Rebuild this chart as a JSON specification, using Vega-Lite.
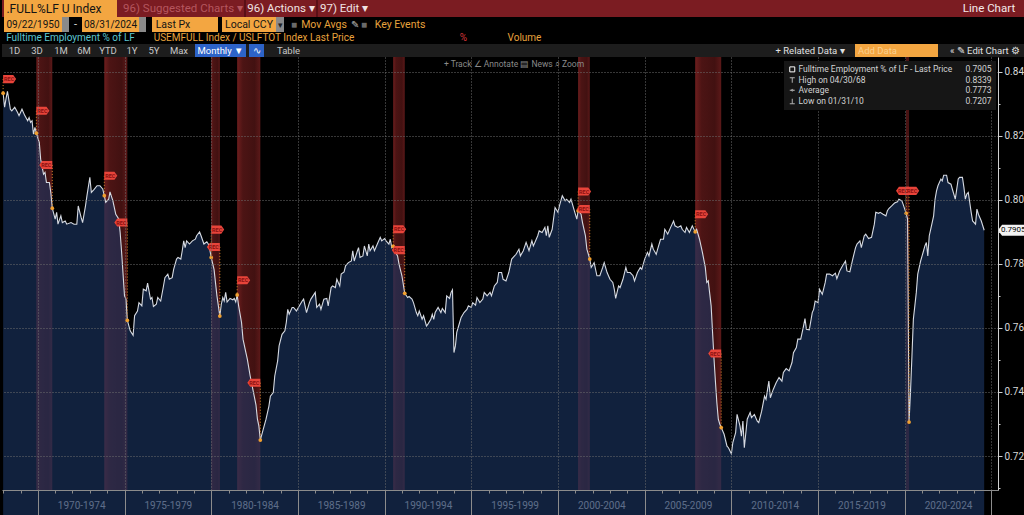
{
"$schema":"https://vega.github.io/schema/vega-lite/v6.json",
"padding":0,
"background":"#000000",
"spacing":0,
"config":{"view":{"stroke":null},"concat":{"spacing":0},"text":{"font":"Liberation Sans Narrow, Roboto, sans-serif"},"axis":{"labelFont":"Liberation Sans Narrow, Roboto, sans-serif"},"legend":{"labelFont":"Liberation Sans Narrow, Roboto, sans-serif"},"title":{"font":"Liberation Sans Narrow, Roboto, sans-serif"}},
"datasets":{
"bands":[{"s":"1969-12","e":"1970-11"},{"s":"1973-11","e":"1975-03"},{"s":"1980-01","e":"1980-07"},{"s":"1981-07","e":"1982-11"},{"s":"1990-07","e":"1991-03"},{"s":"2001-03","e":"2001-11"},{"s":"2007-12","e":"2009-06"},{"s":"2020-02","e":"2020-04"}],
"events":[
{"date":"1968-01","tag":0.8377,"dot":0.8333,"kind":"start"},
{"date":"1969-12","tag":0.8278,"dot":0.8208,"kind":"start"},
{"date":"1970-11","tag":0.8109,"dot":0.7974,"kind":"end"},
{"date":"1973-11","tag":0.8075,"dot":0.8013,"kind":"start"},
{"date":"1975-03","tag":0.7929,"dot":0.7624,"kind":"end"},
{"date":"1980-01","tag":0.7907,"dot":0.7820,"kind":"start"},
{"date":"1980-07","tag":0.7853,"dot":0.7637,"kind":"end"},
{"date":"1981-07","tag":0.7749,"dot":0.7703,"kind":"start"},
{"date":"1982-11","tag":0.7429,"dot":0.7250,"kind":"end"},
{"date":"1990-07","tag":0.7908,"dot":0.7855,"kind":"start"},
{"date":"1991-03","tag":0.7843,"dot":0.7708,"kind":"end"},
{"date":"2001-03","tag":0.8026,"dot":0.7966,"kind":"start"},
{"date":"2001-11","tag":0.7971,"dot":0.7815,"kind":"end"},
{"date":"2007-12","tag":0.7955,"dot":0.7900,"kind":"start"},
{"date":"2009-06","tag":0.7520,"dot":0.7289,"kind":"end"},
{"date":"2020-02","tag":0.8028,"dot":0.7958,"kind":"start"},
{"date":"2020-04","tag":0.8028,"dot":0.7306,"kind":"end"}],
"last":[{"label":"Last Price","value":0.7905}],
"legend":[{"entry":"Fulltime Employment % of LF - Last Price"},{"entry":"High on 04/30/68"},{"entry":"Average"},{"entry":"Low on 01/31/10"},{"entry":"0.7905"},{"entry":"0.8339"},{"entry":"0.7773"},{"entry":"0.7207"}],
"series":[
{"date":"1968-01","value":0.8333},{"date":"1968-02","value":0.8289},{"date":"1968-03","value":0.8315},{"date":"1968-04","value":0.8339},{"date":"1968-06","value":0.8283},{"date":"1968-07","value":0.8278},{"date":"1968-09","value":0.8289},{"date":"1968-11","value":0.8273},{"date":"1968-12","value":0.8263},
{"date":"1969-02","value":0.8283},{"date":"1969-04","value":0.8263},{"date":"1969-06","value":0.8247},{"date":"1969-07","value":0.8257},{"date":"1969-08","value":0.8242},{"date":"1969-09","value":0.8247},{"date":"1969-10","value":0.8205},{"date":"1969-11","value":0.8226},{"date":"1969-12","value":0.8208},
{"date":"1970-02","value":0.8179},{"date":"1970-03","value":0.8127},{"date":"1970-05","value":0.8080},{"date":"1970-06","value":0.8086},{"date":"1970-07","value":0.8054},{"date":"1970-09","value":0.8054},{"date":"1970-10","value":0.8023},{"date":"1970-11","value":0.7974},
{"date":"1971-01","value":0.7940},{"date":"1971-02","value":0.7961},{"date":"1971-03","value":0.7924},{"date":"1971-05","value":0.7950},{"date":"1971-06","value":0.7929},{"date":"1971-08","value":0.7934},{"date":"1971-09","value":0.7924},{"date":"1971-12","value":0.7929},
{"date":"1972-02","value":0.7924},{"date":"1972-04","value":0.7924},{"date":"1972-05","value":0.7981},{"date":"1972-07","value":0.7945},{"date":"1972-08","value":0.7929},{"date":"1972-10","value":0.7981},{"date":"1972-11","value":0.8013},
{"date":"1973-01","value":0.8070},{"date":"1973-02","value":0.8023},{"date":"1973-04","value":0.8033},{"date":"1973-06","value":0.8044},{"date":"1973-08","value":0.8044},{"date":"1973-10","value":0.8033},{"date":"1973-11","value":0.8013},{"date":"1973-12","value":0.7992},
{"date":"1974-02","value":0.8002},{"date":"1974-03","value":0.8025},{"date":"1974-05","value":0.7997},{"date":"1974-07","value":0.7955},{"date":"1974-09","value":0.7940},{"date":"1974-10","value":0.7898},{"date":"1974-11","value":0.7836},
{"date":"1975-01","value":0.7700},{"date":"1975-02","value":0.7690},{"date":"1975-03","value":0.7624},{"date":"1975-05","value":0.7591},{"date":"1975-07","value":0.7577},{"date":"1975-08","value":0.7638},{"date":"1975-10","value":0.7653},{"date":"1975-11","value":0.7679},
{"date":"1976-01","value":0.7669},{"date":"1976-02","value":0.7721},{"date":"1976-04","value":0.7716},{"date":"1976-05","value":0.7740},{"date":"1976-07","value":0.7690},{"date":"1976-08","value":0.7695},{"date":"1976-09","value":0.7667},{"date":"1976-11","value":0.7674},{"date":"1976-12","value":0.7695},
{"date":"1977-02","value":0.7684},{"date":"1977-04","value":0.7731},{"date":"1977-05","value":0.7757},{"date":"1977-07","value":0.7768},{"date":"1977-08","value":0.7752},{"date":"1977-10","value":0.7757},{"date":"1977-11","value":0.7783},
{"date":"1978-01","value":0.7815},{"date":"1978-02","value":0.7820},{"date":"1978-04","value":0.7815},{"date":"1978-05","value":0.7841},{"date":"1978-06","value":0.7872},{"date":"1978-07","value":0.7851},{"date":"1978-08","value":0.7872},{"date":"1978-10","value":0.7862},{"date":"1978-12","value":0.7872},
{"date":"1979-02","value":0.7877},{"date":"1979-03","value":0.7888},{"date":"1979-05","value":0.7900},{"date":"1979-06","value":0.7888},{"date":"1979-08","value":0.7862},{"date":"1979-10","value":0.7869},{"date":"1979-11","value":0.7862},{"date":"1979-12","value":0.7846},
{"date":"1980-01","value":0.7820},{"date":"1980-03","value":0.7783},{"date":"1980-05","value":0.7700},{"date":"1980-07","value":0.7637},{"date":"1980-08","value":0.7674},{"date":"1980-09","value":0.7695},{"date":"1980-10","value":0.7684},{"date":"1980-11","value":0.7711},{"date":"1980-12","value":0.7681},
{"date":"1981-02","value":0.7692},{"date":"1981-04","value":0.7688},{"date":"1981-05","value":0.7692},{"date":"1981-06","value":0.7681},{"date":"1981-07","value":0.7703},{"date":"1981-08","value":0.7669},{"date":"1981-10","value":0.7617},{"date":"1981-11","value":0.7565},
{"date":"1982-01","value":0.7523},{"date":"1982-02","value":0.7502},{"date":"1982-04","value":0.7450},{"date":"1982-06","value":0.7405},{"date":"1982-08","value":0.7360},{"date":"1982-09","value":0.7315},{"date":"1982-10","value":0.7294},{"date":"1982-11","value":0.7250},
{"date":"1983-01","value":0.7283},{"date":"1983-03","value":0.7315},{"date":"1983-05","value":0.7356},{"date":"1983-06","value":0.7387},{"date":"1983-08","value":0.7398},{"date":"1983-09","value":0.7450},{"date":"1983-11","value":0.7497},{"date":"1983-12","value":0.7544},
{"date":"1984-02","value":0.7580},{"date":"1984-04","value":0.7591},{"date":"1984-05","value":0.7617},{"date":"1984-06","value":0.7658},{"date":"1984-07","value":0.7643},{"date":"1984-09","value":0.7664},{"date":"1984-10","value":0.7664},{"date":"1984-12","value":0.7653},
{"date":"1985-02","value":0.7669},{"date":"1985-04","value":0.7684},{"date":"1985-05","value":0.7690},{"date":"1985-07","value":0.7648},{"date":"1985-09","value":0.7679},{"date":"1985-10","value":0.7690},
{"date":"1986-01","value":0.7711},{"date":"1986-02","value":0.7664},{"date":"1986-04","value":0.7674},{"date":"1986-05","value":0.7658},{"date":"1986-07","value":0.7690},{"date":"1986-09","value":0.7692},{"date":"1986-10","value":0.7669},{"date":"1986-12","value":0.7726},
{"date":"1987-01","value":0.7731},{"date":"1987-03","value":0.7726},{"date":"1987-04","value":0.7752},{"date":"1987-06","value":0.7731},{"date":"1987-07","value":0.7768},{"date":"1987-09","value":0.7775},{"date":"1987-10","value":0.7794},{"date":"1987-12","value":0.7804},
{"date":"1988-02","value":0.7809},{"date":"1988-03","value":0.7841},{"date":"1988-04","value":0.7809},{"date":"1988-06","value":0.7838},{"date":"1988-07","value":0.7851},{"date":"1988-08","value":0.7820},{"date":"1988-10","value":0.7825},{"date":"1988-11","value":0.7856},
{"date":"1989-01","value":0.7825},{"date":"1989-02","value":0.7862},{"date":"1989-03","value":0.7841},{"date":"1989-05","value":0.7856},{"date":"1989-06","value":0.7841},{"date":"1989-08","value":0.7862},{"date":"1989-10","value":0.7883},{"date":"1989-11","value":0.7872},
{"date":"1990-01","value":0.7879},{"date":"1990-02","value":0.7872},{"date":"1990-04","value":0.7862},{"date":"1990-05","value":0.7877},{"date":"1990-06","value":0.7851},{"date":"1990-07","value":0.7855},{"date":"1990-08","value":0.7841},{"date":"1990-10","value":0.7825},{"date":"1990-11","value":0.7799},
{"date":"1991-01","value":0.7763},{"date":"1991-03","value":0.7708},{"date":"1991-05","value":0.7695},{"date":"1991-06","value":0.7698},{"date":"1991-08","value":0.7690},{"date":"1991-09","value":0.7679},{"date":"1991-11","value":0.7648},{"date":"1991-12","value":0.7638},
{"date":"1992-01","value":0.7653},{"date":"1992-03","value":0.7627},{"date":"1992-04","value":0.7638},{"date":"1992-06","value":0.7606},{"date":"1992-07","value":0.7612},{"date":"1992-09","value":0.7627},{"date":"1992-10","value":0.7643},{"date":"1992-11","value":0.7627},{"date":"1992-12","value":0.7648},
{"date":"1993-02","value":0.7664},{"date":"1993-04","value":0.7648},{"date":"1993-05","value":0.7661},{"date":"1993-07","value":0.7648},{"date":"1993-08","value":0.7700},{"date":"1993-10","value":0.7692},{"date":"1993-11","value":0.7711},{"date":"1993-12","value":0.7719},
{"date":"1994-01","value":0.7523},{"date":"1994-02","value":0.7544},{"date":"1994-03","value":0.7586},{"date":"1994-05","value":0.7617},{"date":"1994-06","value":0.7633},{"date":"1994-08","value":0.7648},{"date":"1994-10","value":0.7658},{"date":"1994-11","value":0.7669},
{"date":"1995-01","value":0.7664},{"date":"1995-02","value":0.7679},{"date":"1995-04","value":0.7671},{"date":"1995-05","value":0.7695},{"date":"1995-07","value":0.7679},{"date":"1995-09","value":0.7690},{"date":"1995-10","value":0.7711},{"date":"1995-12","value":0.7700},
{"date":"1996-02","value":0.7711},{"date":"1996-03","value":0.7700},{"date":"1996-05","value":0.7731},{"date":"1996-07","value":0.7742},{"date":"1996-08","value":0.7773},{"date":"1996-10","value":0.7773},{"date":"1996-11","value":0.7752},
{"date":"1997-01","value":0.7747},{"date":"1997-03","value":0.7773},{"date":"1997-05","value":0.7815},{"date":"1997-08","value":0.7830},{"date":"1997-10","value":0.7846},{"date":"1997-11","value":0.7825},
{"date":"1998-01","value":0.7841},{"date":"1998-03","value":0.7867},{"date":"1998-05","value":0.7841},{"date":"1998-07","value":0.7872},{"date":"1998-08","value":0.7856},{"date":"1998-11","value":0.7888},{"date":"1998-12","value":0.7903},
{"date":"1999-02","value":0.7898},{"date":"1999-04","value":0.7914},{"date":"1999-05","value":0.7888},{"date":"1999-06","value":0.7919},{"date":"1999-07","value":0.7883},{"date":"1999-09","value":0.7908},{"date":"1999-11","value":0.7976},
{"date":"2000-01","value":0.7961},{"date":"2000-02","value":0.7981},{"date":"2000-04","value":0.8013},{"date":"2000-06","value":0.7997},{"date":"2000-07","value":0.8002},{"date":"2000-09","value":0.7992},{"date":"2000-10","value":0.8002},{"date":"2000-12","value":0.7971},
{"date":"2001-02","value":0.7940},{"date":"2001-03","value":0.7966},{"date":"2001-05","value":0.7955},{"date":"2001-06","value":0.7929},{"date":"2001-08","value":0.7888},{"date":"2001-09","value":0.7846},{"date":"2001-11","value":0.7815},{"date":"2001-12","value":0.7789},
{"date":"2002-02","value":0.7804},{"date":"2002-04","value":0.7763},{"date":"2002-06","value":0.7763},{"date":"2002-08","value":0.7789},{"date":"2002-09","value":0.7804},{"date":"2002-11","value":0.7773},
{"date":"2003-01","value":0.7752},{"date":"2003-03","value":0.7742},{"date":"2003-04","value":0.7721},{"date":"2003-05","value":0.7692},{"date":"2003-07","value":0.7731},{"date":"2003-08","value":0.7726},{"date":"2003-10","value":0.7752},{"date":"2003-12","value":0.7789},
{"date":"2004-01","value":0.7773},{"date":"2004-03","value":0.7773},{"date":"2004-05","value":0.7763},{"date":"2004-06","value":0.7747},{"date":"2004-08","value":0.7773},{"date":"2004-10","value":0.7789},{"date":"2004-11","value":0.7783},
{"date":"2005-01","value":0.7815},{"date":"2005-03","value":0.7836},{"date":"2005-04","value":0.7825},{"date":"2005-06","value":0.7862},{"date":"2005-07","value":0.7846},{"date":"2005-09","value":0.7830},{"date":"2005-10","value":0.7846},{"date":"2005-12","value":0.7877},
{"date":"2006-02","value":0.7877},{"date":"2006-03","value":0.7908},{"date":"2006-05","value":0.7893},{"date":"2006-07","value":0.7914},{"date":"2006-09","value":0.7934},{"date":"2006-10","value":0.7919},{"date":"2006-12","value":0.7914},
{"date":"2007-02","value":0.7919},{"date":"2007-03","value":0.7908},{"date":"2007-05","value":0.7898},{"date":"2007-06","value":0.7914},{"date":"2007-08","value":0.7898},{"date":"2007-10","value":0.7919},{"date":"2007-12","value":0.7900},
{"date":"2008-01","value":0.7908},{"date":"2008-03","value":0.7877},{"date":"2008-05","value":0.7836},{"date":"2008-07","value":0.7789},{"date":"2008-08","value":0.7742},{"date":"2008-09","value":0.7747},{"date":"2008-11","value":0.7669},{"date":"2008-12","value":0.7586},
{"date":"2009-01","value":0.7502},{"date":"2009-02","value":0.7429},{"date":"2009-03","value":0.7367},{"date":"2009-04","value":0.7315},{"date":"2009-05","value":0.7300},{"date":"2009-06","value":0.7289},{"date":"2009-08","value":0.7268},{"date":"2009-10","value":0.7231},{"date":"2009-11","value":0.7226},
{"date":"2010-01","value":0.7207},{"date":"2010-02","value":0.7242},{"date":"2010-04","value":0.7273},{"date":"2010-05","value":0.7330},{"date":"2010-07","value":0.7294},{"date":"2010-08","value":0.7262},{"date":"2010-09","value":0.7309},{"date":"2010-10","value":0.7226},{"date":"2010-12","value":0.7315},
{"date":"2011-02","value":0.7336},{"date":"2011-03","value":0.7320},{"date":"2011-05","value":0.7330},{"date":"2011-07","value":0.7309},{"date":"2011-08","value":0.7304},{"date":"2011-10","value":0.7340},{"date":"2011-12","value":0.7387},
{"date":"2012-01","value":0.7377},{"date":"2012-03","value":0.7434},{"date":"2012-04","value":0.7382},{"date":"2012-06","value":0.7408},{"date":"2012-08","value":0.7429},{"date":"2012-10","value":0.7445},{"date":"2012-12","value":0.7434},
{"date":"2013-01","value":0.7461},{"date":"2013-03","value":0.7473},{"date":"2013-05","value":0.7466},{"date":"2013-07","value":0.7492},{"date":"2013-08","value":0.7523},{"date":"2013-10","value":0.7539},{"date":"2013-11","value":0.7565},
{"date":"2014-01","value":0.7565},{"date":"2014-03","value":0.7606},{"date":"2014-04","value":0.7629},{"date":"2014-05","value":0.7596},{"date":"2014-07","value":0.7594},{"date":"2014-09","value":0.7648},{"date":"2014-10","value":0.7658},{"date":"2014-11","value":0.7684},
{"date":"2015-01","value":0.7679},{"date":"2015-02","value":0.7721},{"date":"2015-04","value":0.7705},{"date":"2015-06","value":0.7742},{"date":"2015-07","value":0.7768},{"date":"2015-09","value":0.7768},{"date":"2015-11","value":0.7763},
{"date":"2016-01","value":0.7771},{"date":"2016-02","value":0.7754},{"date":"2016-04","value":0.7778},{"date":"2016-06","value":0.7794},{"date":"2016-08","value":0.7809},{"date":"2016-09","value":0.7778},{"date":"2016-11","value":0.7775},
{"date":"2017-01","value":0.7815},{"date":"2017-03","value":0.7851},{"date":"2017-04","value":0.7862},{"date":"2017-06","value":0.7872},{"date":"2017-07","value":0.7851},{"date":"2017-09","value":0.7888},{"date":"2017-10","value":0.7893},{"date":"2017-12","value":0.7879},
{"date":"2018-02","value":0.7883},{"date":"2018-04","value":0.7924},{"date":"2018-05","value":0.7961},{"date":"2018-07","value":0.7958},{"date":"2018-08","value":0.7961},{"date":"2018-10","value":0.7955},{"date":"2018-12","value":0.7950},
{"date":"2019-01","value":0.7966},{"date":"2019-02","value":0.7973},{"date":"2019-04","value":0.7981},{"date":"2019-06","value":0.7990},{"date":"2019-08","value":0.7994},{"date":"2019-09","value":0.8002},{"date":"2019-11","value":0.7997},{"date":"2019-12","value":0.7985},
{"date":"2020-01","value":0.7971},{"date":"2020-02","value":0.7958},{"date":"2020-03","value":0.7940},{"date":"2020-04","value":0.7306},{"date":"2020-05","value":0.7398},{"date":"2020-06","value":0.7512},{"date":"2020-07","value":0.7627},{"date":"2020-08","value":0.7669},{"date":"2020-09","value":0.7711},{"date":"2020-10","value":0.7768},{"date":"2020-12","value":0.7809},
{"date":"2021-01","value":0.7825},{"date":"2021-02","value":0.7841},{"date":"2021-03","value":0.7856},{"date":"2021-04","value":0.7867},{"date":"2021-05","value":0.7825},{"date":"2021-06","value":0.7888},{"date":"2021-07","value":0.7908},{"date":"2021-09","value":0.7950},{"date":"2021-10","value":0.8002},{"date":"2021-11","value":0.8028},{"date":"2021-12","value":0.8044},
{"date":"2022-02","value":0.8065},{"date":"2022-03","value":0.8059},{"date":"2022-04","value":0.8077},{"date":"2022-06","value":0.8077},{"date":"2022-07","value":0.8054},{"date":"2022-09","value":0.8049},{"date":"2022-10","value":0.8033},{"date":"2022-12","value":0.8002},
{"date":"2023-02","value":0.8065},{"date":"2023-03","value":0.8070},{"date":"2023-05","value":0.8070},{"date":"2023-06","value":0.8039},{"date":"2023-07","value":0.8002},{"date":"2023-08","value":0.8018},{"date":"2023-09","value":0.8023},{"date":"2023-11","value":0.7961},{"date":"2023-12","value":0.7934},
{"date":"2024-02","value":0.7924},{"date":"2024-03","value":0.7971},{"date":"2024-04","value":0.7955},{"date":"2024-06","value":0.7934},{"date":"2024-08","value":0.7905}]
},
"vconcat":[
{"spacing":0,"bounds":"flush","hconcat":[
{"width":2,"height":17,"view":{"fill":"#7b1c22","stroke":null},"data":{"values":[{"t":""}]},"mark":{"type":"text"},"encoding":{"text":{"field":"t"}}},
{"width":100,"height":17,"view":{"fill":"#f3a641","stroke":null},"data":{"values":[{"t":".FULL%LF U Index"}]},"mark":{"type":"text","color":"#141414","fontSize":12},"encoding":{"text":{"field":"t"}}},
{"width":13,"height":17,"view":{"fill":"#f3a641","stroke":null},"data":{"values":[{"t":""}]},"mark":{"type":"text"},"encoding":{"text":{"field":"t"}}},
{"width":5,"height":17,"view":{"fill":"#7b1c22","stroke":null},"data":{"values":[{"t":""}]},"mark":{"type":"text"},"encoding":{"text":{"field":"t"}}},
{"width":122,"height":17,"view":{"fill":"#7b1c22","stroke":null},"data":{"values":[{"t":"96) Suggested Charts ▾"}]},"mark":{"type":"text","color":"#b5565e","fontSize":11.5},"encoding":{"text":{"field":"t"}}},
{"width":2,"height":17,"view":{"fill":"#5a1016","stroke":null},"data":{"values":[{"t":""}]},"mark":{"type":"text"},"encoding":{"text":{"field":"t"}}},
{"width":70,"height":17,"view":{"fill":"#7b1c22","stroke":null},"data":{"values":[{"t":"96) Actions ▾"}]},"mark":{"type":"text","color":"#f0e2e2","fontSize":11.5},"encoding":{"text":{"field":"t"}}},
{"width":2,"height":17,"view":{"fill":"#5a1016","stroke":null},"data":{"values":[{"t":""}]},"mark":{"type":"text"},"encoding":{"text":{"field":"t"}}},
{"width":52,"height":17,"view":{"fill":"#7b1c22","stroke":null},"data":{"values":[{"t":"97) Edit ▾"}]},"mark":{"type":"text","color":"#f0e2e2","fontSize":11.5},"encoding":{"text":{"field":"t"}}},
{"width":582,"height":17,"view":{"fill":"#7b1c22","stroke":null},"data":{"values":[{"t":""}]},"mark":{"type":"text"},"encoding":{"text":{"field":"t"}}},
{"width":74,"height":17,"view":{"fill":"#7b1c22","stroke":null},"data":{"values":[{"t":"Line Chart"}]},"mark":{"type":"text","color":"#f4eaea","fontSize":11.5},"encoding":{"text":{"field":"t"}}}
]},
{"spacing":0,"bounds":"flush","hconcat":[
{"width":2,"height":15,"view":{"fill":"#000000","stroke":null},"data":{"values":[{"t":""}]},"mark":{"type":"text"},"encoding":{"text":{"field":"t"}}},
{"width":58,"height":15,"view":{"fill":"#f3a641","stroke":null},"data":{"values":[{"t":"09/22/1950"}]},"mark":{"type":"text","color":"#141414","fontSize":10},"encoding":{"text":{"field":"t"}}},
{"width":7,"height":15,"view":{"fill":"#8a8a8a","stroke":null},"data":{"values":[{"t":""}]},"mark":{"type":"text"},"encoding":{"text":{"field":"t"}}},
{"width":13,"height":15,"view":{"fill":"#000000","stroke":null},"data":{"values":[{"t":"-"}]},"mark":{"type":"text","color":"#dddddd","fontSize":11},"encoding":{"text":{"field":"t"}}},
{"width":57,"height":15,"view":{"fill":"#f3a641","stroke":null},"data":{"values":[{"t":"08/31/2024"}]},"mark":{"type":"text","color":"#141414","fontSize":10},"encoding":{"text":{"field":"t"}}},
{"width":7,"height":15,"view":{"fill":"#8a8a8a","stroke":null},"data":{"values":[{"t":""}]},"mark":{"type":"text"},"encoding":{"text":{"field":"t"}}},
{"width":6,"height":15,"view":{"fill":"#000000","stroke":null},"data":{"values":[{"t":""}]},"mark":{"type":"text"},"encoding":{"text":{"field":"t"}}},
{"width":42,"height":15,"view":{"fill":"#f3a641","stroke":null},"data":{"values":[{"t":"Last Px"}]},"mark":{"type":"text","color":"#141414","fontSize":10.5},"encoding":{"text":{"field":"t"}}},
{"width":24,"height":15,"view":{"fill":"#f3a641","stroke":null},"data":{"values":[{"t":""}]},"mark":{"type":"text"},"encoding":{"text":{"field":"t"}}},
{"width":4,"height":15,"view":{"fill":"#000000","stroke":null},"data":{"values":[{"t":""}]},"mark":{"type":"text"},"encoding":{"text":{"field":"t"}}},
{"width":54,"height":15,"view":{"fill":"#f3a641","stroke":null},"data":{"values":[{"t":"Local CCY"}]},"mark":{"type":"text","color":"#141414","fontSize":10.5},"encoding":{"text":{"field":"t"}}},
{"width":8,"height":15,"view":{"fill":"#8a8a8a","stroke":null},"data":{"values":[{"t":"▾"}]},"mark":{"type":"text","color":"#222222","fontSize":9},"encoding":{"text":{"field":"t"}}},
{"width":6,"height":15,"view":{"fill":"#000000","stroke":null},"data":{"values":[{"t":""}]},"mark":{"type":"text"},"encoding":{"text":{"field":"t"}}},
{"width":8,"height":15,"view":{"fill":"#000000","stroke":null},"data":{"values":[{"t":"■"}]},"mark":{"type":"text","color":"#6a6a6a","fontSize":10},"encoding":{"text":{"field":"t"}}},
{"width":52,"height":15,"view":{"fill":"#000000","stroke":null},"data":{"values":[{"t":"Mov Avgs"}]},"mark":{"type":"text","color":"#e8a33d","fontSize":10.5},"encoding":{"text":{"field":"t"}}},
{"width":10,"height":15,"view":{"fill":"#000000","stroke":null},"data":{"values":[{"t":"✎"}]},"mark":{"type":"text","color":"#bbbbbb","fontSize":10},"encoding":{"text":{"field":"t"}}},
{"width":8,"height":15,"view":{"fill":"#000000","stroke":null},"data":{"values":[{"t":"■"}]},"mark":{"type":"text","color":"#6a6a6a","fontSize":10},"encoding":{"text":{"field":"t"}}},
{"width":64,"height":15,"view":{"fill":"#000000","stroke":null},"data":{"values":[{"t":"Key Events"}]},"mark":{"type":"text","color":"#e8a33d","fontSize":10.5},"encoding":{"text":{"field":"t"}}},
{"width":594,"height":15,"view":{"fill":"#000000","stroke":null},"data":{"values":[{"t":""}]},"mark":{"type":"text"},"encoding":{"text":{"field":"t"}}}
]},
{"spacing":0,"bounds":"flush","hconcat":[
{"width":137,"height":12,"view":{"fill":"#000000","stroke":null},"data":{"values":[{"t":"Fulltime Employment % of LF"}]},"mark":{"type":"text","color":"#5cc6d0","fontSize":10},"encoding":{"text":{"field":"t"}}},
{"width":11,"height":12,"view":{"fill":"#000000","stroke":null},"data":{"values":[{"t":""}]},"mark":{"type":"text"},"encoding":{"text":{"field":"t"}}},
{"width":208,"height":12,"view":{"fill":"#000000","stroke":null},"data":{"values":[{"t":"USEMFULL Index / USLFTOT Index Last Price"}]},"mark":{"type":"text","color":"#e8a33d","fontSize":10},"encoding":{"text":{"field":"t"}}},
{"width":99,"height":12,"view":{"fill":"#000000","stroke":null},"data":{"values":[{"t":""}]},"mark":{"type":"text"},"encoding":{"text":{"field":"t"}}},
{"width":13,"height":12,"view":{"fill":"#000000","stroke":null},"data":{"values":[{"t":"%"}]},"mark":{"type":"text","color":"#d9363a","fontSize":10},"encoding":{"text":{"field":"t"}}},
{"width":32,"height":12,"view":{"fill":"#000000","stroke":null},"data":{"values":[{"t":""}]},"mark":{"type":"text"},"encoding":{"text":{"field":"t"}}},
{"width":45,"height":12,"view":{"fill":"#000000","stroke":null},"data":{"values":[{"t":"Volume"}]},"mark":{"type":"text","color":"#e8a33d","fontSize":10},"encoding":{"text":{"field":"t"}}},
{"width":479,"height":12,"view":{"fill":"#000000","stroke":null},"data":{"values":[{"t":""}]},"mark":{"type":"text"},"encoding":{"text":{"field":"t"}}}
]},
{"spacing":0,"bounds":"flush","hconcat":[
{"width":2,"height":13,"view":{"fill":"#1d1d1d","stroke":null},"data":{"values":[{"t":""}]},"mark":{"type":"text"},"encoding":{"text":{"field":"t"}}},
{"width":21,"height":13,"view":{"fill":"#1d1d1d","stroke":null},"data":{"values":[{"t":"1D"}]},"mark":{"type":"text","color":"#c8c8c8","fontSize":9.5},"encoding":{"text":{"field":"t"}}},
{"width":24,"height":13,"view":{"fill":"#1d1d1d","stroke":null},"data":{"values":[{"t":"3D"}]},"mark":{"type":"text","color":"#c8c8c8","fontSize":9.5},"encoding":{"text":{"field":"t"}}},
{"width":24,"height":13,"view":{"fill":"#1d1d1d","stroke":null},"data":{"values":[{"t":"1M"}]},"mark":{"type":"text","color":"#c8c8c8","fontSize":9.5},"encoding":{"text":{"field":"t"}}},
{"width":22,"height":13,"view":{"fill":"#1d1d1d","stroke":null},"data":{"values":[{"t":"6M"}]},"mark":{"type":"text","color":"#c8c8c8","fontSize":9.5},"encoding":{"text":{"field":"t"}}},
{"width":26,"height":13,"view":{"fill":"#1d1d1d","stroke":null},"data":{"values":[{"t":"YTD"}]},"mark":{"type":"text","color":"#c8c8c8","fontSize":9.5},"encoding":{"text":{"field":"t"}}},
{"width":22,"height":13,"view":{"fill":"#1d1d1d","stroke":null},"data":{"values":[{"t":"1Y"}]},"mark":{"type":"text","color":"#c8c8c8","fontSize":9.5},"encoding":{"text":{"field":"t"}}},
{"width":22,"height":13,"view":{"fill":"#1d1d1d","stroke":null},"data":{"values":[{"t":"5Y"}]},"mark":{"type":"text","color":"#c8c8c8","fontSize":9.5},"encoding":{"text":{"field":"t"}}},
{"width":28,"height":13,"view":{"fill":"#1d1d1d","stroke":null},"data":{"values":[{"t":"Max"}]},"mark":{"type":"text","color":"#c8c8c8","fontSize":9.5},"encoding":{"text":{"field":"t"}}},
{"width":2,"height":13,"view":{"fill":"#1d1d1d","stroke":null},"data":{"values":[{"t":""}]},"mark":{"type":"text"},"encoding":{"text":{"field":"t"}}},
{"width":51,"height":13,"view":{"fill":"#2d63c8","stroke":null},"data":{"values":[{"t":"Monthly ▼"}]},"mark":{"type":"text","color":"#ffffff","fontSize":9.5},"encoding":{"text":{"field":"t"}}},
{"width":3,"height":13,"view":{"fill":"#1d1d1d","stroke":null},"data":{"values":[{"t":""}]},"mark":{"type":"text"},"encoding":{"text":{"field":"t"}}},
{"width":15,"height":13,"view":{"fill":"#2d63c8","stroke":null},"data":{"values":[{"t":"∿"}]},"mark":{"type":"text","color":"#ffffff","fontSize":10},"encoding":{"text":{"field":"t"}}},
{"width":8,"height":13,"view":{"fill":"#1d1d1d","stroke":null},"data":{"values":[{"t":""}]},"mark":{"type":"text"},"encoding":{"text":{"field":"t"}}},
{"width":33,"height":13,"view":{"fill":"#1d1d1d","stroke":null},"data":{"values":[{"t":"Table"}]},"mark":{"type":"text","color":"#c8c8c8","fontSize":9.5},"encoding":{"text":{"field":"t"}}},
{"width":467,"height":13,"view":{"fill":"#1d1d1d","stroke":null},"data":{"values":[{"t":""}]},"mark":{"type":"text"},"encoding":{"text":{"field":"t"}}},
{"width":76,"height":13,"view":{"fill":"#1d1d1d","stroke":null},"data":{"values":[{"t":"+ Related Data ▾"}]},"mark":{"type":"text","color":"#e0e0e0","fontSize":9.5},"encoding":{"text":{"field":"t"}}},
{"width":7,"height":13,"view":{"fill":"#1d1d1d","stroke":null},"data":{"values":[{"t":""}]},"mark":{"type":"text"},"encoding":{"text":{"field":"t"}}},
{"width":45,"height":13,"view":{"fill":"#f3a641","stroke":null},"data":{"values":[{"t":"Add Data"}]},"mark":{"type":"text","color":"#f9d090","fontSize":9.5},"encoding":{"text":{"field":"t"}}},
{"width":38,"height":13,"view":{"fill":"#f3a641","stroke":null},"data":{"values":[{"t":""}]},"mark":{"type":"text"},"encoding":{"text":{"field":"t"}}},
{"width":6,"height":13,"view":{"fill":"#1d1d1d","stroke":null},"data":{"values":[{"t":""}]},"mark":{"type":"text"},"encoding":{"text":{"field":"t"}}},
{"width":82,"height":13,"view":{"fill":"#1d1d1d","stroke":null},"data":{"values":[{"t":"« ✎ Edit Chart ⚙"}]},"mark":{"type":"text","color":"#e0e0e0","fontSize":9.5},"encoding":{"text":{"field":"t"}}}
]},
{
"width":996,"height":433,
"view":{"fill":"#000000","stroke":null},
"title":{"text":"+ Track      ∠ Annotate      ▤ News      ⌕ Zoom","orient":"top","anchor":"middle","offset":-11,"dx":14,"fontSize":8.5,"fontWeight":"normal","color":"#8a8a8a"},
"resolve":{"axis":{"x":"independent","y":"independent"}},
"layer":[
{"data":{"name":"bands"},
 "mark":{"type":"rect","fill":{"gradient":"linear","x1":0,"y1":0,"x2":1,"y2":0,"stops":[{"offset":0,"color":"#6e1e1e"},{"offset":0.25,"color":"#4c1414"},{"offset":0.75,"color":"#421111"},{"offset":1,"color":"#5c1919"}]}},
 "encoding":{
  "x":{"field":"s","type":"temporal","scale":{"type":"utc","nice":false,"domain":[{"year":1967,"month":12,"date":8,"utc":true},{"year":2025,"month":5,"date":19,"utc":true}]},
   "axis":{"orient":"bottom","values":[{"year":1968,"utc":true},{"year":1969,"utc":true},{"year":1970,"utc":true},{"year":1971,"utc":true},{"year":1972,"utc":true},{"year":1973,"utc":true},{"year":1974,"utc":true},{"year":1975,"utc":true},{"year":1976,"utc":true},{"year":1977,"utc":true},{"year":1978,"utc":true},{"year":1979,"utc":true},{"year":1980,"utc":true},{"year":1981,"utc":true},{"year":1982,"utc":true},{"year":1983,"utc":true},{"year":1984,"utc":true},{"year":1985,"utc":true},{"year":1986,"utc":true},{"year":1987,"utc":true},{"year":1988,"utc":true},{"year":1989,"utc":true},{"year":1990,"utc":true},{"year":1991,"utc":true},{"year":1992,"utc":true},{"year":1993,"utc":true},{"year":1994,"utc":true},{"year":1995,"utc":true},{"year":1996,"utc":true},{"year":1997,"utc":true},{"year":1998,"utc":true},{"year":1999,"utc":true},{"year":2000,"utc":true},{"year":2001,"utc":true},{"year":2002,"utc":true},{"year":2003,"utc":true},{"year":2004,"utc":true},{"year":2005,"utc":true},{"year":2006,"utc":true},{"year":2007,"utc":true},{"year":2008,"utc":true},{"year":2009,"utc":true},{"year":2010,"utc":true},{"year":2011,"utc":true},{"year":2012,"utc":true},{"year":2013,"utc":true},{"year":2014,"utc":true},{"year":2015,"utc":true},{"year":2016,"utc":true},{"year":2017,"utc":true},{"year":2018,"utc":true},{"year":2019,"utc":true},{"year":2020,"utc":true},{"year":2021,"utc":true},{"year":2022,"utc":true},{"year":2023,"utc":true},{"year":2024,"utc":true},{"year":2025,"utc":true}],
    "labels":false,"tickSize":3,"tickColor":"#8c8c8c","domainColor":"#8c8c8c","grid":false,"title":null,"zindex":1}},
  "x2":{"field":"e"}}},
{"data":{"name":"series"},
 "mark":{"type":"area","color":"#1b3662","opacity":0.62},
 "encoding":{
  "x":{"field":"date","type":"temporal",
   "axis":{"orient":"bottom","values":[{"year":1970,"utc":true},{"year":1975,"utc":true},{"year":1980,"utc":true},{"year":1985,"utc":true},{"year":1990,"utc":true},{"year":1995,"utc":true},{"year":2000,"utc":true},{"year":2005,"utc":true},{"year":2010,"utc":true},{"year":2015,"utc":true},{"year":2020,"utc":true},{"year":2025,"utc":true}],
    "labels":false,"tickSize":25,"tickColor":"#8c8c8c","domain":false,"grid":true,"gridColor":"#6e6e6e","gridDash":[1,2],"title":null,"zindex":1}},
  "y":{"field":"value","type":"quantitative","scale":{"domain":[0.7094,0.8446],"nice":false,"zero":false},
   "axis":{"orient":"right","values":[0.72,0.74,0.76,0.78,0.8,0.82,0.84],"format":".2f","tickSize":4,"tickColor":"#d0d0d0","domainColor":"#d0d0d0","labelColor":"#d8d8d8","labelFontSize":10,"labelPadding":2,"grid":true,"gridColor":"#6e6e6e","gridDash":[1,2],"title":null,"zindex":1}}}},
{"data":{"name":"series"},
 "mark":{"type":"line","color":"#d6dae2","strokeWidth":1.1},
 "encoding":{
  "x":{"field":"date","type":"temporal",
   "axis":{"orient":"bottom","values":[{"year":1972,"month":7,"date":2,"utc":true},{"year":1977,"month":7,"date":2,"utc":true},{"year":1982,"month":7,"date":2,"utc":true},{"year":1987,"month":7,"date":2,"utc":true},{"year":1992,"month":7,"date":2,"utc":true},{"year":1997,"month":7,"date":2,"utc":true},{"year":2002,"month":7,"date":2,"utc":true},{"year":2007,"month":7,"date":2,"utc":true},{"year":2012,"month":7,"date":2,"utc":true},{"year":2017,"month":7,"date":2,"utc":true},{"year":2022,"month":7,"date":2,"utc":true}],
    "labelExpr":"(utcyear(datum.value) - 2) + '-' + (utcyear(datum.value) + 2)","ticks":false,"domain":false,"grid":false,"labelOverlap":false,"labelFlush":false,"labelColor":"#c8c8c8","labelFontSize":10,"labelPadding":10,"title":null}},
  "y":{"field":"value","type":"quantitative",
   "axis":{"orient":"right","values":[0.71,0.73,0.75,0.77,0.79,0.81,0.83],"tickSize":2,"tickColor":"#d0d0d0","labels":false,"domain":false,"grid":false,"title":null}}}},
{"data":{"name":"events"},
 "mark":{"type":"rule","color":"#d98a2a","strokeDash":[1,2],"strokeWidth":1},
 "encoding":{"x":{"field":"date","type":"temporal","axis":null},"y":{"field":"tag","type":"quantitative","axis":null},"y2":{"field":"dot"}}},
{"data":{"name":"events"},
 "mark":{"type":"point","filled":true,"color":"#f0a030","opacity":1,"size":14},
 "encoding":{"x":{"field":"date","type":"temporal","axis":null},"y":{"field":"dot","type":"quantitative","axis":null}}},
{"data":{"name":"events"},
 "transform":[{"filter":"datum.kind == 'start'"}],
 "mark":{"type":"point","filled":true,"color":"#e8443a","opacity":1,"size":676,"shape":"M0,-0.31L0.78,-0.31L1,0L0.78,0.31L0,0.31Z"},
 "encoding":{"x":{"field":"date","type":"temporal","axis":null},"y":{"field":"tag","type":"quantitative","axis":null}}},
{"data":{"name":"events"},
 "transform":[{"filter":"datum.kind == 'end'"}],
 "mark":{"type":"point","filled":true,"color":"#e8443a","opacity":1,"size":676,"shape":"M0,-0.31L-0.78,-0.31L-1,0L-0.78,0.31L0,0.31Z"},
 "encoding":{"x":{"field":"date","type":"temporal","axis":null},"y":{"field":"tag","type":"quantitative","axis":null}}},
{"data":{"name":"events"},
 "transform":[{"filter":"datum.kind == 'start'"}],
 "mark":{"type":"text","text":"REC","dx":6,"fontSize":5.5,"fontWeight":"bold","color":"#8a1010"},
 "encoding":{"x":{"field":"date","type":"temporal","axis":null},"y":{"field":"tag","type":"quantitative","axis":null}}},
{"data":{"name":"events"},
 "transform":[{"filter":"datum.kind == 'end'"}],
 "mark":{"type":"text","text":"REC","dx":-6,"fontSize":5.5,"fontWeight":"bold","color":"#8a1010"},
 "encoding":{"x":{"field":"date","type":"temporal","axis":null},"y":{"field":"tag","type":"quantitative","axis":null}}},
{"data":{"name":"last"},
 "mark":{"type":"point","filled":true,"color":"#f2f2f2","opacity":1,"size":2916,"shape":"M0,0L0.15,-0.2L1,-0.2L1,0.2L0.15,0.2Z"},
 "encoding":{"x":{"datum":{"year":2025,"month":5,"date":19,"utc":true},"type":"temporal","axis":null},"y":{"field":"value","type":"quantitative","axis":null}}},
{"data":{"name":"last"},
 "mark":{"type":"text","align":"left","dx":3,"fontSize":8,"color":"#000000"},
 "encoding":{"x":{"datum":{"year":2025,"month":5,"date":19,"utc":true},"type":"temporal","axis":null},"y":{"field":"value","type":"quantitative","axis":null},"text":{"field":"value","type":"quantitative","format":".4f"}}},
{"data":{"name":"legend"},
 "mark":{"type":"point","opacity":0,"filled":false},
 "encoding":{
  "color":{"field":"entry","type":"nominal",
   "scale":{"domain":["Fulltime Employment % of LF - Last Price","High on 04/30/68","Average","Low on 01/31/10","0.7905","0.8339","0.7773","0.7207"],"range":["#ffffff","#b0b0b0","#b0b0b0","#b0b0b0","#161616","#161616","#161616","#161616"]},
   "legend":{"orient":"none","legendX":782,"legendY":61,"columns":2,"gridAlign":"each","columnPadding":2,"rowPadding":1,"title":null,"labelColor":"#d2d2d2","labelFontSize":8.5,"symbolSize":25,"symbolStrokeWidth":1,"symbolOpacity":1,"fillColor":"#161616","padding":4,"labelLimit":300,"labelOffset":2}},
  "shape":{"field":"entry","type":"nominal",
   "scale":{"domain":["Fulltime Employment % of LF - Last Price","High on 04/30/68","Average","Low on 01/31/10","0.7905","0.8339","0.7773","0.7207"],"range":["square","M-1,-1L1,-1M0,-1L0,1","M-1,0L1,0M-0.35,0A0.35,0.35 0 1 0 0.35,0A0.35,0.35 0 1 0 -0.35,0","M-1,1L1,1M0,-1L0,1","M0,0","M0,0","M0,0","M0,0"]}}}}
]}
]}
